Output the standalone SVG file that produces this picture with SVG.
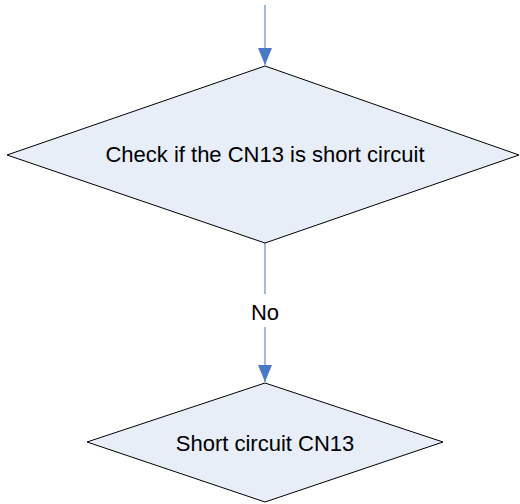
<svg xmlns="http://www.w3.org/2000/svg" width="520" height="504" viewBox="0 0 520 504">
<style>
.node{fill:#E8EEF8;stroke:#000;stroke-width:1}
.lbl{font-family:"Liberation Sans",Arial,sans-serif;font-size:22px;fill:#000;text-anchor:middle}
.conn{stroke:#6E97D6;stroke-width:1.3;fill:none}
</style>
<defs>
<marker id="ah" markerWidth="18" markerHeight="18" viewBox="0 0 18 18" refX="17" refY="9" orient="auto" markerUnits="userSpaceOnUse">
<path d="M0,2 L17,9 L0,16 Z" fill="#4A78C8"/>
</marker>
</defs>
<rect width="520" height="504" fill="#fff"/>
<g id="connectors">
<path class="conn" d="M265,5 L265,65" marker-end="url(#ah)"/>
<path class="conn" d="M265,243 L265,294"/>
<path class="conn" d="M265,327 L265,382" marker-end="url(#ah)"/>
<text class="lbl" x="265" y="320">No</text>
</g>
<g id="decision1">
<polygon class="node" points="265,66 519,155 265,243 7,155"/>
<text class="lbl" x="265" y="162">Check if the CN13 is short circuit</text>
</g>
<g id="decision2">
<polygon class="node" points="265,383 443,442 265,502 87,442"/>
<text class="lbl" x="265" y="451">Short circuit CN13</text>
</g>
</svg>
